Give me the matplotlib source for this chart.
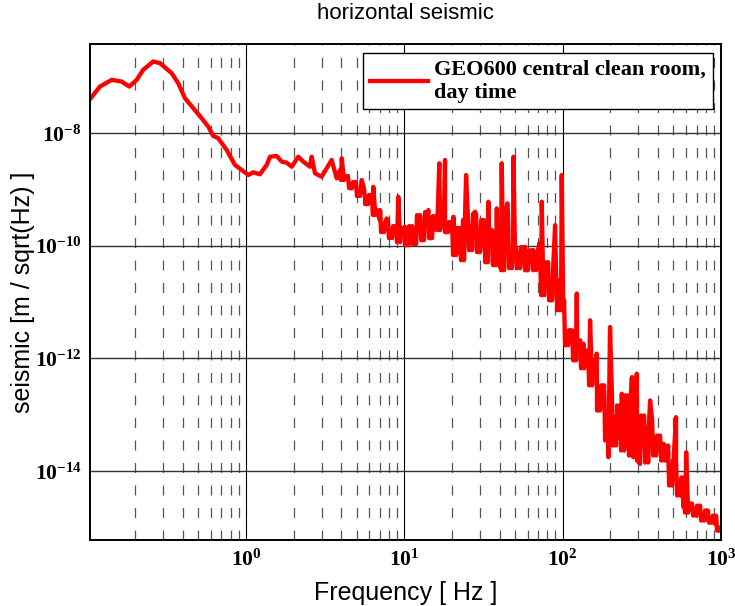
import numpy as np
import matplotlib
matplotlib.use("Agg")
import matplotlib.pyplot as plt
from matplotlib.ticker import FixedLocator, FuncFormatter, NullLocator

plt.rcParams['mathtext.fontset'] = 'custom'
plt.rcParams['mathtext.rm'] = 'Liberation Serif:bold'
plt.rcParams['mathtext.it'] = 'Liberation Serif:bold'
plt.rcParams['mathtext.bf'] = 'Liberation Serif:bold'

# ---- data (log10 of frequency in Hz, log10 of amplitude in m/sqrt(Hz)) ----
# main traced curve incl. spectral lines
log10_freq = [
    -0.985, -0.922, -0.848, -0.785, -0.737, -0.690, -0.649, -0.586, -0.543, -0.469,
    -0.428, -0.385, -0.333, -0.280, -0.238, -0.207, -0.175, -0.122, -0.069, -0.027,
    0.015, 0.046, 0.088, 0.131, 0.152, 0.194, 0.226, 0.257, 0.289, 0.330,
    0.362, 0.404, 0.415, 0.436, 0.478, 0.510, 0.541, 0.573, 0.605, 0.636,
    0.668, 0.689, 0.709, 0.731, 0.752, 0.773, 0.804, 0.815, 0.846, 0.867,
    0.889, 0.920, 0.941, 0.962, 0.973, 1.004, 1.036, 1.068, 1.099, 1.120,
    1.152, 1.183, 1.205, 1.221, 1.236, 1.257, 1.278, 1.310, 1.331, 1.363,
    1.371, 1.390, 1.415, 1.447, 1.478, 1.510, 1.531, 1.562, 1.584, 1.605,
    1.615, 1.625, 1.651, 1.668, 1.689, 1.699, 1.731, 1.762, 1.794, 1.815,
    1.836, 1.853, 1.868, 1.878, 1.900, 1.920, 1.941, 1.952, 1.967, 1.984,
    1.994, 2.004, 2.026, 2.047, 2.068, 2.089, 2.099, 2.131, 2.152, 2.173,
    2.184, 2.215, 2.236, 2.263, 2.279, 2.289, 2.299, 2.314, 2.331, 2.352,
    2.373, 2.394, 2.415, 2.437, 2.447, 2.468, 2.489, 2.510, 2.531, 2.552,
    2.573, 2.605, 2.636, 2.658, 2.678, 2.699, 2.716, 2.731, 2.752, 2.763,
    2.780, 2.794, 2.826, 2.857, 2.889, 2.920, 2.948, 2.963, 3.000,
]
log10_asd = [
    -7.400, -7.176, -7.057, -7.087, -7.176, -7.057, -6.879, -6.731, -6.760, -6.938,
    -7.116, -7.383, -7.560, -7.738, -7.888, -8.053, -8.094, -8.302, -8.569, -8.658,
    -8.747, -8.699, -8.735, -8.569, -8.422, -8.409, -8.511, -8.528, -8.600, -8.422,
    -8.511, -8.600, -8.422, -8.717, -8.778, -8.628, -8.480, -8.806, -8.450, -8.778,
    -8.984, -8.895, -9.103, -8.836, -9.162, -9.222, -8.956, -9.370, -9.548, -9.726,
    -9.518, -9.815, -9.667, -9.133, -9.845, -9.667, -9.963, -9.815, -9.548, -9.904,
    -9.370, -9.726, -9.489, -8.539, -9.489, -8.480, -9.667, -9.489, -10.082, -10.201,
    -9.548, -8.747, -9.667, -9.400, -9.963, -10.141, -9.222, -10.201, -9.340, -10.379,
    -8.539, -10.438, -9.251, -10.379, -8.422, -10.082, -10.141, -10.023, -10.201, -10.082,
    -10.379, -9.963, -9.222, -10.794, -10.496, -10.972, -10.318, -9.637, -10.616, -11.091,
    -8.747, -11.149, -11.742, -11.505, -12.039, -10.852, -11.861, -11.742, -12.098, -11.327,
    -12.336, -11.920, -12.929, -12.632, -13.404, -13.760, -11.447, -13.285, -13.048, -13.404,
    -12.632, -13.463, -12.751, -12.336, -13.760, -12.276, -13.877, -13.107, -13.226, -12.751,
    -13.404, -13.641, -13.521, -13.819, -14.233, -13.877, -13.048, -14.233, -14.116, -14.649,
    -13.671, -14.649, -14.678, -14.649, -14.827, -14.886, -14.797, -14.945, -15.005,
]

# additional readings of the dense noise (alternating upper / lower edge of the trace)
noise_log10_freq = [
    0.594, 0.619, 0.644, 0.670, 0.695, 0.720, 0.745, 0.771, 0.796, 0.821,
    0.847, 0.872, 0.897, 0.922, 0.948, 0.973, 0.998, 1.023, 1.049, 1.074,
    1.099, 1.124, 1.150, 1.175, 1.200, 1.226, 1.251, 1.276, 1.301, 1.327,
    1.352, 1.377, 1.402, 1.428, 1.453, 1.478, 1.503, 1.529, 1.554, 1.579,
    1.605, 1.630, 1.655, 1.680, 1.706, 1.731, 1.756, 1.781, 1.807, 1.832,
    1.857, 1.883, 1.908, 1.933, 1.958, 1.984, 2.009, 2.034, 2.059, 2.085,
    2.110, 2.135, 2.160, 2.186, 2.211, 2.236, 2.262, 2.287, 2.312, 2.337,
    2.363, 2.388, 2.413, 2.438, 2.464, 2.489, 2.514, 2.540, 2.565, 2.590,
    2.615, 2.641, 2.666, 2.691, 2.716, 2.742, 2.767, 2.792, 2.817, 2.843,
    2.868, 2.893, 2.918, 2.944, 2.969, 2.994,
]
noise_log10_asd = [
    -8.658, -8.836, -8.765, -8.979, -8.872, -9.121, -8.979, -9.263, -9.103, -9.459,
    -9.370, -9.762, -9.584, -9.868, -9.655, -9.940, -9.690, -9.993, -9.655, -9.975,
    -9.459, -9.904, -9.406, -9.868, -9.477, -9.726, -9.548, -9.762, -9.584, -10.171,
    -9.690, -10.260, -9.512, -10.082, -9.441, -10.117, -9.548, -10.295, -9.726, -10.349,
    -9.637, -10.438, -9.459, -10.402, -10.046, -10.402, -10.028, -10.438, -10.082, -10.438,
    -10.171, -10.883, -10.295, -10.972, -10.438, -11.149, -10.972, -11.772, -11.505, -12.039,
    -11.683, -12.181, -11.861, -12.484, -12.039, -12.929, -12.484, -13.463, -12.751, -13.552,
    -12.840, -13.641, -12.662, -13.730, -12.484, -13.819, -13.018, -13.854, -13.107, -13.730,
    -13.374, -13.819, -13.552, -14.263, -13.819, -14.441, -14.139, -14.744, -14.584, -14.797,
    -14.619, -14.886, -14.708, -14.922, -14.797, -15.064,
]

# second pass of noise readings, taken just beside the first pass
noise2_log10_freq = [
    0.600, 0.625, 0.651, 0.676, 0.701, 0.726, 0.752, 0.777, 0.802,
    0.828, 0.853, 0.878, 0.903, 0.929, 0.954, 0.979, 1.004, 1.030, 1.055,
    1.080, 1.106, 1.131, 1.156, 1.181, 1.207, 1.232, 1.257, 1.282, 1.308,
    1.333, 1.358, 1.383, 1.409, 1.434, 1.459, 1.485, 1.510, 1.535, 1.560,
    1.586, 1.611, 1.636, 1.661, 1.687, 1.712, 1.737, 1.762, 1.788, 1.813,
    1.838, 1.864, 1.889, 1.914, 1.939, 1.965, 1.990, 2.015, 2.040, 2.066,
    2.091, 2.116, 2.141, 2.167, 2.192, 2.217, 2.243, 2.268, 2.293, 2.318,
    2.344, 2.369, 2.394, 2.419, 2.445, 2.470, 2.495, 2.521, 2.546, 2.571,
    2.596, 2.622, 2.647, 2.672, 2.697, 2.723, 2.748, 2.773, 2.798, 2.824,
    2.849, 2.874, 2.899, 2.925, 2.950, 2.975,
]
noise2_log10_asd = [
    -8.836, -8.765, -8.979, -8.872, -9.121, -8.979, -9.263, -9.103, -9.459,
    -9.370, -9.762, -9.584, -9.868, -9.655, -9.940, -9.690, -9.993, -9.655, -9.975,
    -9.459, -9.904, -9.406, -9.868, -9.477, -9.726, -9.548, -9.762, -9.584, -10.171,
    -9.690, -10.260, -9.512, -10.082, -9.441, -10.117, -9.548, -10.295, -9.726, -10.349,
    -9.637, -10.438, -9.459, -10.402, -10.046, -10.402, -10.028, -10.438, -10.082, -10.438,
    -10.171, -10.883, -10.295, -10.972, -10.438, -11.149, -10.972, -11.772, -11.505, -12.039,
    -11.683, -12.181, -11.861, -12.484, -12.039, -12.929, -12.484, -13.463, -12.751, -13.552,
    -12.840, -13.641, -12.662, -13.730, -12.484, -13.819, -13.018, -13.854, -13.107, -13.730,
    -13.374, -13.819, -13.552, -14.263, -13.819, -14.441, -14.139, -14.744, -14.584, -14.797,
    -14.619, -14.886, -14.708, -14.922, -14.797, -15.064,
]

x_major = [1, 10, 100, 1000]
y_major = [1e-14, 1e-12, 1e-10, 1e-8]
x_limits = (0.1035, 1000)
y_limits = (10 ** -15.23, 10 ** -6.42)

title_text = "horizontal seismic"
xlabel_text = "Frequency [ Hz ]"
ylabel_text = "seismic [m / sqrt(Hz) ]"
legend_text = "GEO600 central clean room,\nday time"

lf = np.concatenate([log10_freq, noise_log10_freq, noise2_log10_freq])
la = np.concatenate([log10_asd, noise_log10_asd, noise2_log10_asd])
order = np.argsort(lf, kind='stable')
freq = 10 ** lf[order]
asd = 10 ** la[order]

fig = plt.figure(figsize=(7.35, 6.06), dpi=100)
ax = fig.add_axes([0.1224, 0.1089, 0.981 - 0.1224, 0.9274 - 0.1089])
ax.set_xscale('log')
ax.set_yscale('log')
ax.set_xlim(*x_limits)
ax.set_ylim(*y_limits)

# grid: minor dashed verticals, major solid
minor_x = [m * 10.0 ** e for e in range(-1, 3) for m in range(2, 10)]
minor_x = [v for v in minor_x if x_limits[0] < v < x_limits[1]]
for v in minor_x:
    ax.axvline(v, color='#555555', lw=0.9, ls=(0, (8, 10)), zorder=1)
for v in x_major:
    ax.axvline(v, color='black', lw=0.8, zorder=1)
for v in y_major:
    ax.axhline(v, color='#333333', lw=1.0, zorder=1)

line, = ax.plot(freq, asd, color='#ff0000', lw=3.1, zorder=3, solid_joinstyle='round')

ax.xaxis.set_major_locator(FixedLocator(x_major))
ax.yaxis.set_major_locator(FixedLocator(y_major))
ax.xaxis.set_minor_locator(NullLocator())
ax.yaxis.set_minor_locator(NullLocator())
fmt = FuncFormatter(lambda v, p: r'$\mathrm{10^{%d}}$' % int(round(np.log10(v))))
ax.xaxis.set_major_formatter(fmt)
ax.yaxis.set_major_formatter(fmt)
ax.tick_params(axis='both', which='major', direction='in', length=0, labelsize=15.5, pad=6)

for s in ax.spines.values():
    s.set_linewidth(1.4)
    s.set_zorder(5)

ax.set_title(title_text, fontsize=16, family='Liberation Sans', pad=18)
ax.set_xlabel(xlabel_text, fontsize=18, family='Liberation Sans', labelpad=8)
ax.set_ylabel(ylabel_text, fontsize=18, family='Liberation Sans', labelpad=0)

leg = ax.legend([line], [legend_text], loc='upper right',
                prop={'family': 'Liberation Serif', 'weight': 'bold', 'size': 16},
                fancybox=False, framealpha=1, edgecolor='black',
                borderaxespad=0.0, handlelength=2.6, borderpad=0.3, labelspacing=0.1,
                handletextpad=0.3, bbox_to_anchor=(0.987, 0.982))
leg.get_frame().set_linewidth(1.0)
leg.set_zorder(6)

fig.savefig('out.png', dpi=100)
